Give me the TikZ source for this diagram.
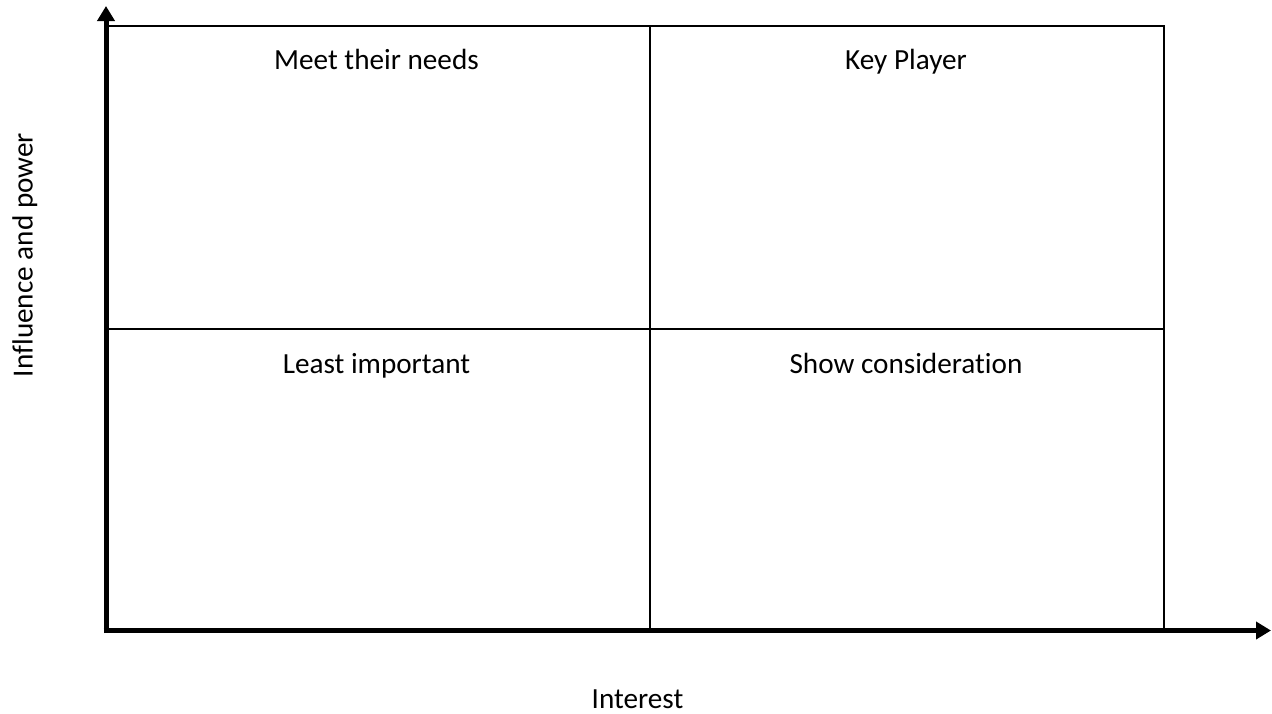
\documentclass[tikz,border=0pt]{standalone}
\usepackage{fontspec}
\setmainfont{Carlito}[Ligatures=NoCommon]
\usetikzlibrary{arrows.meta}
\tikzset{
  axis/.style={line width=5pt,-{Triangle[width=17pt,length=15pt]}},
  quad/.style={draw,line width=2.2pt,anchor=north west,inner sep=0pt},
  qlabel/.style={anchor=base,inner sep=0pt,font=\fontsize{29.2}{35}\selectfont},
  alabel/.style={anchor=base,inner sep=0pt,font=\fontsize{29.2}{35}\selectfont}
}
\begin{document}
\begin{tikzpicture}[x=1pt,y=-1pt]
\useasboundingbox (0,0) rectangle (1272,713);
\node[quad,minimum width=542pt,minimum height=303pt] (q1) at (107,25) {};
\node[quad,minimum width=514pt,minimum height=303pt] (q2) at (649,25) {};
\node[quad,minimum width=542pt,minimum height=302pt] (q3) at (107,328) {};
\node[quad,minimum width=514pt,minimum height=302pt] (q4) at (649,328) {};
\node[qlabel] (l1) at (376.5,69.5) {Meet their needs};
\node[qlabel] (l2) at (906,69.5) {Key Player};
\node[qlabel] (l3) at (376.5,373) {Least important};
\node[qlabel] (l4) at (906,373) {Show consideration};
\coordinate (ytop) at (106,6);
\coordinate (xend) at (1271,630.5);
\coordinate (obot) at (106,633);
\coordinate (oleft) at (103.5,630.5);
\draw[axis] (obot) -- (ytop);
\draw[axis] (oleft) -- (xend);
\node[alabel,rotate=90] (ylab) at (32.5,255) {Influence and power};
\node[alabel] (xlab) at (637.5,708) {Interest};
\end{tikzpicture}
\end{document}
